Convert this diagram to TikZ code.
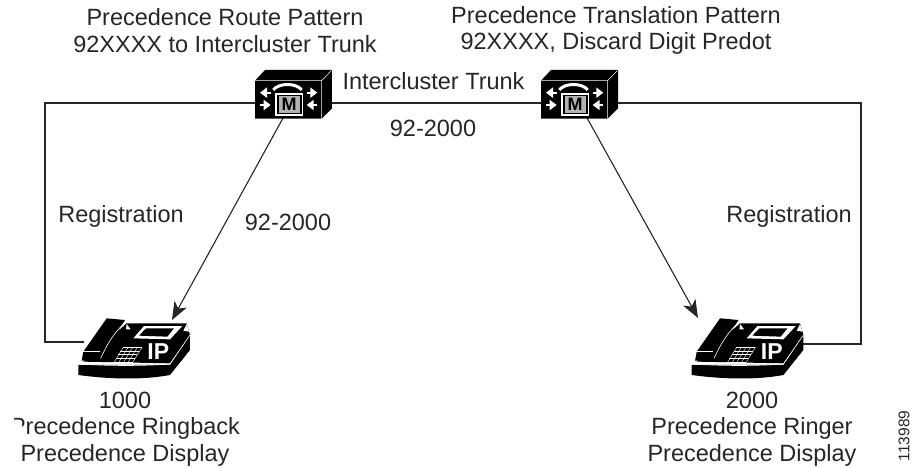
\documentclass[tikz,border=0pt]{standalone}
\usepackage{fontspec}
\setmainfont{Liberation Sans}
\usetikzlibrary{arrows.meta}
\tikzset{
	label text/.style={font=\fontsize{23.5}{26.5}\selectfont, align=center, text=black!85},
	icon box/.style={inner sep=0pt, outer sep=0pt, draw=none, rectangle},
	link/.style={line width=1.1pt, black!85},
	call/.style={link, -{Stealth[length=18pt,width=14pt,inset=5pt]}},
	callmanager/.pic={
			\begin{scope}[x=0.3333pt, y=-0.3333pt]
				% Draw the box
				\fill[black] (45,62) -- (75,30) -- (276,30) -- (276,145) -- (245,176) -- (45,176) -- cycle;
				\draw[white, line width=0.5pt] (45,62) -- (245,62) -- (274,32) (245,62) -- (245,176);
				% Draw the handset and the arrows
				\draw[white, line width=3pt] (100,90) .. controls (115,68) and (170,68) .. (185,90);
				\foreach \xa/\xb/\ya in {92/60/98, 60/92/135, 200/232/98, 232/200/135}
				\draw[white, line width=1.8pt, -{Triangle[length=7pt,width=10pt]}] (\xa,\ya) -- (\xb,\ya);
				% Draw the M
				\fill[white] (105,100) rectangle (190,167);
				\fill[black] (110,104) rectangle (185,163);
				\fill[black!30] (116,109) rectangle (179,158);
				\node[inner sep=0pt, font=\fontsize{18}{18}\selectfont\bfseries] at (147.5,134) {M};
			\end{scope}
		},
	ipphone/.pic={
			\begin{scope}[x=0.3333pt, y=-0.3333pt]
				% Draw the base and the body
				\fill[black] (25,195) -- (300,195) -- (360,105) -- (360,150) -- (300,225) .. controls (220,240) and (120,238) .. (25,225) -- cycle;
				\fill[black] (40,185) -- (170,70) -- (350,70) -- (360,105) -- (300,190) -- cycle;
				\draw[white, line width=0.6pt] (25,192) .. controls (120,198) and (220,198) .. (300,192) -- (360,105);
				% Draw the handset
				\fill[black] (35,182) -- (40,155) -- (110,55) -- (165,60) -- (110,150) -- (90,180) -- cycle;
				\draw[white, line width=0.6pt] (168,65) .. controls (135,95) and (115,125) .. (92,175);
				\draw[white, line width=0.6pt] (38,155) -- (90,155);
				% Draw the notches
				\fill[white] (170,72) -- (182,88) -- (168,88) -- cycle;
				\fill[white] (350,72) -- (357,95) -- (340,92) -- cycle;
				% Draw the display
				\fill[white] (190,115) -- (222,78) -- (337,78) -- (300,118) -- cycle;
				\fill[black] (207,107) -- (228,85) -- (312,85) -- (292,110) -- cycle;
				% Draw the keys
				\foreach \ya in {142,153,164,175,186}
				\draw[white, line width=0.4pt] ({158-(\ya-142)*0.6},\ya) -- ({215-(\ya-142)*0.6},\ya);
				\foreach \xa in {0,14,28,42,56}
				\draw[white, line width=0.4pt] (160+\xa,142) -- (133+\xa,186);
				\node[inner sep=0pt, text=white, font=\fontsize{23}{23}\selectfont\bfseries] at (265,155) {IP};
			\end{scope}
		}
}
\begin{document}
\begin{tikzpicture}[x=1pt, y=1pt]

	\useasboundingbox (0,0) rectangle (912,-468);

	% Boxes of the icons
	\node[icon box, minimum width=67pt, minimum height=30pt] (cmLeft) at (288.5,-103) {};
	\node[icon box, minimum width=67pt, minimum height=30pt] (cmRight) at (574.5,-103) {};
	\node[icon box, minimum width=100pt, minimum height=48pt] (phoneLeft) at (134,-342) {};
	\node[icon box, minimum width=100pt, minimum height=48pt] (phoneRight) at (750,-344) {};
	\coordinate (bendLeftTop) at (45,-103);
	\coordinate (bendRightTop) at (861,-103);
	\coordinate (hitLeft) at (172,-320);
	\coordinate (hitRight) at (698,-318);

	% Draw the links
	\draw[link] (cmLeft.west) -- (bendLeftTop) |- (phoneLeft.west);
	\draw[link] (cmRight.east) -- (bendRightTop) |- (phoneRight.east);
	\draw[link] (cmLeft.east) -- (cmRight.west);
	\draw[call] (cmLeft.250) -- (hitLeft);
	\draw[call] (cmRight.310) -- (hitRight);

	% Draw the icons
	\pic at (240,-60) {callmanager};
	\pic at (526,-60) {callmanager};
	\pic at (70,-300) {ipphone};
	\pic at (683.4,-300) {ipphone};

	% Labels at the top
	\node[label text] (routeText) at (225,-30.5) {Precedence Route Pattern\\92XXXX to Intercluster Trunk};
	\node[label text] (translationText) at (616,-30.5) {Precedence Translation Pattern\\92XXXX, Discard Digit Predot};
	\node[label text, fill=white, inner sep=1pt] (trunkText) at (433.5,-81) {Intercluster Trunk};
	\node[label text] (numberTop) at (433,-128) {92-2000};
	\node[label text] (numberLeft) at (288,-222) {92-2000};
	\node[label text] (registrationLeft) at (121,-216) {Registration};
	\node[label text] (registrationRight) at (789,-216) {Registration};

	% Labels at the bottom
	\node[label text] (phoneTextLeft) at (125,-429) {1000\\Precedence Ringback\\Precedence Display};
	\node[label text] (phoneTextRight) at (752,-429) {2000\\Precedence Ringer\\Precedence Display};
	\fill[white] (0,-424) rectangle (22,-440) (0,-412) rectangle (14,-424);
	\node[rotate=90, font=\fontsize{15.5}{15.5}\selectfont, text=black!85] (figureNumber) at (904,-436) {113989};

\end{tikzpicture}
\end{document}
